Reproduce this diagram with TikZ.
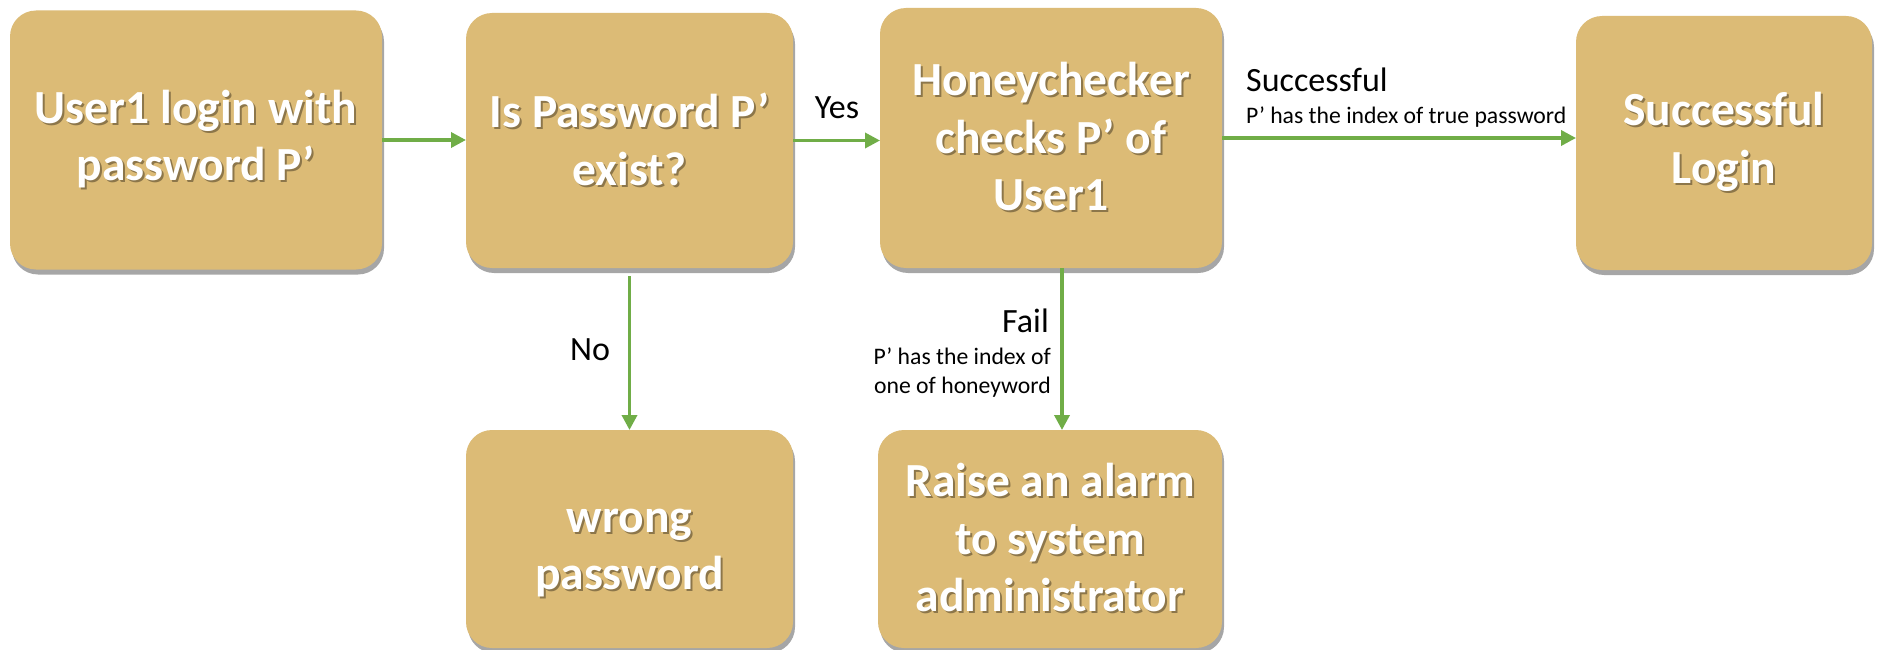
\documentclass[tikz,border=0pt]{standalone}
\usepackage{fontspec}
\setmainfont{Carlito}
\usetikzlibrary{arrows.meta,shadows}
\definecolor{boxfill}{RGB}{220,187,118}
\definecolor{arrgreen}{RGB}{112,173,71}
\definecolor{tshadow}{RGB}{140,118,74}
\newcommand{\shd}[1]{\makebox[0pt][l]{\hspace*{2pt}\raisebox{-2pt}{\textcolor{tshadow}{#1}}}#1}
\begin{document}
\begin{tikzpicture}[x=1pt,y=-1pt,
  boxtext/.style={inner sep=0pt, outer sep=0pt, align=center, text=white,
    font=\fontsize{47.5}{57.5}\selectfont\bfseries},
  box/.style={boxtext, rectangle, rounded corners=26pt, fill=boxfill,
    drop shadow={shadow xshift=2pt, shadow yshift=-5pt, opacity=0.35, fill=black}},
  arr/.style={draw=arrgreen, line width=3.5pt, -{Triangle[length=15pt,width=15pt]}},
  lbl/.style={inner sep=0pt, font=\fontsize{34}{41}\selectfont},
  sublbl/.style={inner sep=0pt, font=\fontsize{23.7}{29}\selectfont}]
\useasboundingbox (0,0) rectangle (1890,650);
\fill[white] (0,0) rectangle (1890,650);
\node[box, minimum width=372pt, minimum height=259pt] (b1) at (196,140) {\shd{User1 login with}\\\shd{password P’}};
\node[box, minimum width=327pt, minimum height=255pt] (b2) at (629.5,140.5) {\shd{Is Password P’}\\\shd{exist?}};
\node[box, minimum width=342pt, minimum height=260pt] (b3) at (1051,138) {\shd{Honeychecker}\\\shd{checks P’ of}\\\shd{User1}};
\node[box, minimum width=296pt, minimum height=254pt] (b4) at (1724,143) {\shd{Successful}\\\shd{Login}};
\node[box, minimum width=327pt, minimum height=218pt] (b5) at (629.5,539) {};
\node[boxtext] (b5t) at ([yshift=-15pt]b5.center) {\shd{wrong}\\\shd{password}};
\node[box, minimum width=344pt, minimum height=218pt] (b6) at (1050,539) {\shd{Raise an alarm}\\\shd{to system}\\\shd{administrator}};
\draw[arr] (b1.east) -- (b1.east -| b2.west);
\draw[arr] (b2.east) -- (b2.east -| b3.west);
\draw[arr] (b3.east) -- (b3.east -| b4.west);
\draw[arr, shorten <=8pt] (b2.south) -- (b5.north);
\draw[arr] ([xshift=11pt]b3.south) -- ([xshift=11pt]b3.south |- b6.north);
\node[lbl, anchor=base] (yes) at (837,119) {Yes};
\node[lbl, anchor=base west] (succ) at (1246,92) {Successful};
\node[sublbl, anchor=base west] (succsub) at (1246,124) {P’ has the index of true password};
\node[lbl, anchor=base] (no) at (590,360) {No};
\node[lbl, anchor=base east] (fail) at (1049,332) {Fail};
\node[sublbl, anchor=base east, align=right] (failsub) at (1051,393) {P’ has the index of\\one of honeyword};
\end{tikzpicture}
\end{document}
